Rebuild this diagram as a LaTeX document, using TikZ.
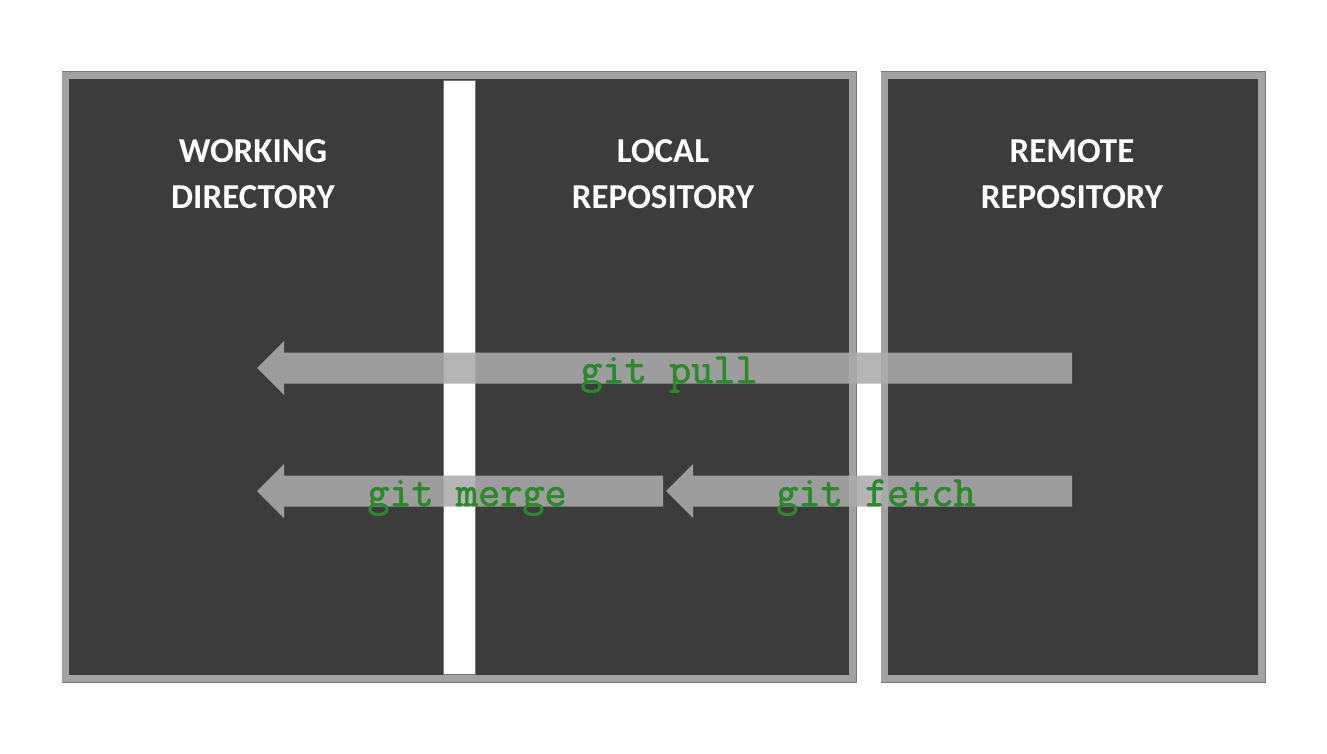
\documentclass[tikz,border=0pt]{standalone}
\usepackage{fontspec}
\usetikzlibrary{calc}
\newfontfamily\titlefont{Carlito}
\newfontfamily\codefont{Latin Modern Mono}[FakeBold=1.6]
\definecolor{panel}{HTML}{3C3C3C}
\definecolor{rim}{HTML}{A2A2A2}
\definecolor{rimdark}{HTML}{7A7A7A}
\definecolor{arrowgray}{HTML}{ABABAB}
\definecolor{codegreen}{HTML}{2A8A2A}
\tikzset{
  panelbox/.style={fill=panel, draw=rim, line width=7pt, inner sep=0pt, outer sep=0pt},
  paneledge/.style={draw=rimdark, line width=1pt},
  strip/.style={fill=white, draw=panel!70!white, line width=0.6pt, inner sep=0pt, outer sep=0pt},
  title/.style={font=\titlefont\bfseries\fontsize{35}{45}\selectfont, text=white, align=center, anchor=base},
  code/.style={font=\codefont\fontsize{43}{45}\selectfont, text=codegreen, anchor=base, inner sep=0pt},
  arrowbody/.style={fill=arrowgray, fill opacity=0.88}
}
\newcommand{\leftarrowbar}[2]{%
  \fill[arrowbody] ($(#1)+(0,-15.5)$) -- ($(#2)+(27,-15.5)$) -- ($(#2)+(27,-27)$) -- (#2)
     -- ($(#2)+(27,27)$) -- ($(#2)+(27,15.5)$) -- ($(#1)+(0,15.5)$) -- cycle;}
\begin{document}
\begin{tikzpicture}[x=1pt,y=-1pt]
\useasboundingbox[fill=white] (0,0) rectangle (1327,754);
% panels
\draw[paneledge] (62,72) rectangle (856,682);
\node[panelbox, minimum width=787pt, minimum height=603pt, anchor=north west] (local) at (65.5,75.5) {};
\draw[paneledge] (881,72) rectangle (1265,682);
\node[panelbox, minimum width=377pt, minimum height=603pt, anchor=north west] (remote) at (884.5,75.5) {};
% white strip
\node[strip, minimum width=32pt, minimum height=594pt, anchor=north west] (gap) at (443,80) {};
% titles
\node[title] (twd1) at (253,163) {WORKING};
\node[title] (twd2) at (253,208) {DIRECTORY};
\node[title] (tlr1) at (663,163) {LOCAL};
\node[title] (tlr2) at (663,208) {REPOSITORY};
\node[title] (trr1) at (1072,163) {REMOTE};
\node[title] (trr2) at (1072,208) {REPOSITORY};
% arrow end points
\coordinate (pullS) at (1072,368);
\coordinate (pullE) at (257,368);
\coordinate (fetchS) at (1072,491);
\coordinate (fetchE) at (666,491);
\coordinate (mergeS) at (663,491);
\coordinate (mergeE) at (257,491);
\leftarrowbar{pullS}{pullE}
\leftarrowbar{fetchS}{fetchE}
\leftarrowbar{mergeS}{mergeE}
% labels
\node[code] (lpull) at (669,383) {git pull};
\node[code] (lmerge) at (467,506) {git merge};
\node[code] (lfetch) at (876,506) {git fetch};
\end{tikzpicture}
\end{document}
